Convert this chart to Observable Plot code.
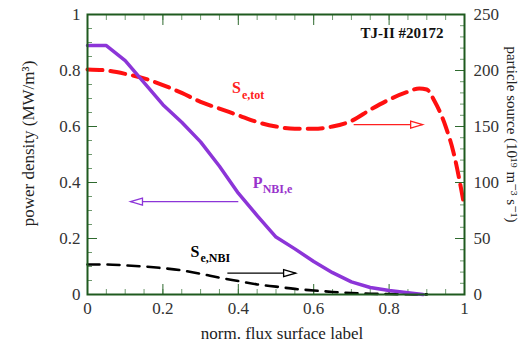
<!DOCTYPE html>
<html>
<head>
<meta charset="utf-8">
<script src="https://cdn.jsdelivr.net/npm/d3@7"></script>
<script src="https://cdn.jsdelivr.net/npm/@observablehq/plot@0.6"></script>
<style>
  html, body { margin: 0; padding: 0; background: white; }
</style>
</head>
<body>
<div id="chart"></div>
<script>
// ---- data ----
// P_NBI,e  (left axis, MW/m^3)
const pX = [0, 0.05, 0.1, 0.15, 0.2, 0.25, 0.3, 0.35, 0.4, 0.45, 0.5, 0.55, 0.6, 0.65, 0.7, 0.75, 0.8, 0.85, 0.89];
const pNBI = [0.889, 0.889, 0.835, 0.757, 0.678, 0.615, 0.545, 0.458, 0.362, 0.282, 0.205, 0.163, 0.118, 0.078, 0.045, 0.025, 0.014, 0.006, 0.0];
// S_e,tot  (right axis, 10^19 m^-3 s^-1)
const tX = [0, 0.05, 0.1, 0.15, 0.2, 0.25, 0.3, 0.35, 0.4, 0.45, 0.5, 0.55, 0.6, 0.65, 0.7, 0.75, 0.8, 0.85, 0.88, 0.9, 0.92, 0.95, 0.97, 1.0];
const sTot = [201, 200, 197, 193, 187, 180, 172, 166, 160, 154, 150, 148, 148, 150, 155, 165, 174, 181, 184, 183, 173, 150, 128, 78];
// S_e,NBI  (right axis)
const nX = [0, 0.05, 0.1, 0.15, 0.2, 0.25, 0.3, 0.35, 0.4, 0.45, 0.5, 0.55, 0.6, 0.65, 0.7, 0.75, 0.8, 0.85, 0.9];
const sNBI = [26.8, 26.8, 26, 25, 23.5, 21.5, 18.5, 15, 12, 9, 7, 5, 3.6, 2.3, 1.3, 0.7, 0.4, 0.2, 0.1];

const rightMax = 250;
const xTicks = [0, 0.2, 0.4, 0.6, 0.8, 1];
const leftTicks = [0, 0.2, 0.4, 0.6, 0.8, 1];
const rightTicks = [0, 50, 100, 150, 200, 250];

// annotations (in data units of the left axis)
const arrows = [
  {x1: 0.706, x2: 0.889, y: 0.607, color: "#ff2020", dir: "right"},
  {x1: 0.400, x2: 0.114, y: 0.332, color: "#8c35d8", dir: "left"},
  {x1: 0.371, x2: 0.552, y: 0.076, color: "#000000", dir: "right"}
];
const labels = [
  {main: "S", sub: "e,tot", x: 0.383, y: 0.738, color: "#ff2020"},
  {main: "P", sub: "NBI,e", x: 0.438, y: 0.40, color: "#9933cc"},
  {main: "S", sub: "e,NBI", x: 0.273, y: 0.154, color: "#000000"}
];

const pnbi = pX.map((x, i) => ({x, v: pNBI[i]}));
const tot = tX.map((x, i) => ({x, v: sTot[i] / rightMax}));
const nbi = nX.map((x, i) => ({x, v: sNBI[i] / rightMax}));

const headRight = {draw(ctx) { ctx.moveTo(0, 0); ctx.lineTo(-12, -3.5); ctx.lineTo(-12, 3.5); ctx.closePath(); }};
const headLeft = {draw(ctx) { ctx.moveTo(0, 0); ctx.lineTo(12, -3.5); ctx.lineTo(12, 3.5); ctx.closePath(); }};

const major = "#2f6a2f", minor = "#6f9a6f";
const minorX = d3.range(0, 21).map(i => i * 0.05);
const minorY = d3.range(0, 21).map(i => i * 0.05);
const minorR = d3.range(0, 26).map(i => i * 10 / rightMax);
const fmt = d => String(+(+d).toFixed(2));

const chart = Plot.plot({
  width: 525,
  height: 350,
  marginLeft: 87,
  marginRight: 61,
  marginTop: 14,
  marginBottom: 56,
  style: {fontFamily: "'Liberation Serif', 'DejaVu Serif', serif", fontSize: "17px", color: "#333", background: "white"},
  x: {domain: [0, 1]},
  y: {domain: [0, 1]},
  marks: [
    // minor ticks (inward)
    Plot.axisX({anchor: "bottom", ticks: minorX, tickSize: -5, tickFormat: () => "", stroke: minor, label: null}),
    Plot.axisX({anchor: "top", ticks: minorX, tickSize: -5, tickFormat: () => "", stroke: minor, label: null}),
    Plot.axisY({anchor: "left", ticks: minorY, tickSize: -5, tickFormat: () => "", stroke: minor, label: null}),
    Plot.axisY({anchor: "right", ticks: minorR, tickSize: -5, tickFormat: () => "", stroke: minor, label: null}),
    // major ticks (inward)
    Plot.axisX({anchor: "bottom", ticks: xTicks, tickSize: -10, tickFormat: () => "", stroke: major, label: null}),
    Plot.axisX({anchor: "top", ticks: xTicks, tickSize: -10, tickFormat: () => "", stroke: major, label: null}),
    Plot.axisY({anchor: "left", ticks: leftTicks, tickSize: -10, tickFormat: () => "", stroke: major, label: null}),
    Plot.axisY({anchor: "right", ticks: rightTicks.map(d => d / rightMax), tickSize: -10, tickFormat: () => "", stroke: major, label: null}),
    // tick labels
    Plot.axisX({anchor: "bottom", ticks: xTicks, tickSize: 0, tickPadding: 7, tickFormat: fmt, fill: "#333", label: null}),
    Plot.axisY({anchor: "left", ticks: leftTicks, tickSize: 0, tickPadding: 7, tickFormat: fmt, fill: "#333", label: null}),
    Plot.axisY({anchor: "right", ticks: rightTicks.map(d => d / rightMax), tickSize: 0, tickPadding: 9, tickFormat: d => String(Math.round(d * rightMax)), fill: "#333", label: null}),
    // axis titles
    Plot.text(["norm. flux surface label"], {frameAnchor: "bottom", dx: 6, dy: 39, textAnchor: "middle", lineAnchor: "middle", fill: "#222"}),
    Plot.text(["power density (MW/m³)"], {frameAnchor: "left", dx: -59, dy: -11, rotate: -90, textAnchor: "middle", lineAnchor: "middle", fill: "#222"}),
    Plot.text(["particle source (10¹⁹ m⁻³ s⁻¹)"], {frameAnchor: "right", dx: 47, dy: -20, rotate: 90, textAnchor: "middle", lineAnchor: "middle", fontSize: 15, fill: "#222"}),
    Plot.text(["TJ-II #20172"], {frameAnchor: "top-right", dx: -21, dy: 19, textAnchor: "end", lineAnchor: "middle", fontWeight: "bold", fontSize: 15, fill: "#111"}),
    // curves
    Plot.line(tot, {x: "x", y: "v", stroke: "#ff1010", strokeWidth: 4, strokeDasharray: "15,8", curve: "monotone-x"}),
    Plot.line(nbi, {x: "x", y: "v", stroke: "#000", strokeWidth: 2.6, strokeDasharray: "12,8", curve: "monotone-x"}),
    Plot.line(pnbi, {x: "x", y: "v", stroke: "#8c35d8", strokeWidth: 3.5}),
    // arrows
    Plot.link(arrows, {x1: "x1", x2: "x2", y1: "y", y2: "y", stroke: "color", strokeWidth: 1.2}),
    Plot.dot(arrows.filter(a => a.dir === "right"), {x: "x2", y: "y", r: 4, symbol: headRight, fill: "white", stroke: "color", strokeWidth: 1.3}),
    Plot.dot(arrows.filter(a => a.dir === "left"), {x: "x2", y: "y", r: 4, symbol: headLeft, fill: "white", stroke: "color", strokeWidth: 1.3}),
    // series labels
    Plot.text(labels, {x: "x", y: "y", text: "main", fill: "color", fontWeight: "bold", fontSize: 16, textAnchor: "start", lineAnchor: "middle"}),
    Plot.text(labels, {x: "x", y: "y", text: "sub", fill: "color", fontWeight: "bold", fontSize: 12, textAnchor: "start", lineAnchor: "middle", dx: 10, dy: 7}),
    Plot.frame({stroke: "#1f5a1f", strokeWidth: 2})
  ]
});
document.getElementById("chart").appendChild(chart);
</script>
</body>
</html>
